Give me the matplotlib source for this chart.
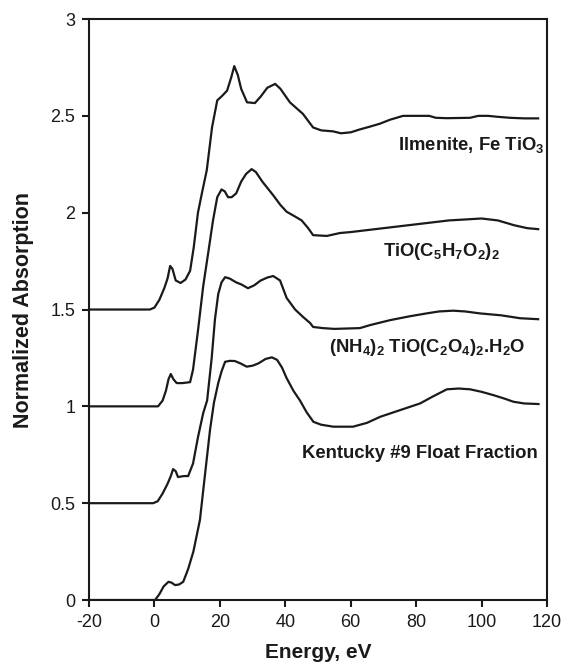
import numpy as np
import matplotlib.pyplot as plt

plt.rcParams['font.family'] = ['Liberation Sans', 'DejaVu Sans']
plt.rcParams['mathtext.default'] = 'regular'
plt.rcParams['axes.unicode_minus'] = False

# ---- data (energy in eV, normalized absorption) ----
e_ilm = [-20, -1.4, 0, 1.5, 3, 4, 4.8, 5.5, 6.5, 8, 9.5, 10.9, 12, 13.3, 14.5, 16,
         17.6, 19.2, 20.5, 22.2, 23.5, 24.4, 25.5, 26.5, 28.3, 30.7, 32.5, 34.5,
         36.9, 38.5, 41.4, 45.4, 48.5, 51, 54.6, 57, 60, 62.8, 66, 69, 72, 76, 84,
         86, 89.4, 96.5, 99, 102, 105, 108.7, 113, 117.3]
a_ilm = [1.5, 1.5, 1.51, 1.55, 1.61, 1.66, 1.725, 1.71, 1.65, 1.637, 1.655, 1.70,
         1.82, 2.0, 2.10, 2.22, 2.44, 2.58, 2.60, 2.63, 2.70, 2.757, 2.71, 2.64,
         2.57, 2.566, 2.60, 2.645, 2.665, 2.64, 2.57, 2.51, 2.44, 2.425, 2.42,
         2.41, 2.415, 2.43, 2.445, 2.46, 2.48, 2.50, 2.50, 2.49, 2.488, 2.49,
         2.50, 2.50, 2.495, 2.49, 2.487, 2.487]

e_acac = [-20, 1.1, 2.5, 3.5, 4.3, 5.0, 5.8, 6.8, 8.5, 10.9, 11.8, 13.3, 14.9,
          16.5, 17.9, 19.2, 20.5, 21.5, 22.5, 23.6, 25, 26.5, 28, 29.7, 31, 33,
          36.3, 38.5, 40.4, 43, 45, 47, 48.5, 52.7, 56.7, 60, 65, 70, 75, 80, 85,
          90, 95, 100, 105, 110, 114, 117.3]
a_acac = [1.0, 1.0, 1.03, 1.08, 1.14, 1.167, 1.14, 1.12, 1.12, 1.125, 1.19, 1.39,
          1.62, 1.80, 1.96, 2.08, 2.12, 2.11, 2.08, 2.08, 2.10, 2.16, 2.20, 2.225,
          2.21, 2.16, 2.09, 2.04, 2.005, 1.98, 1.96, 1.92, 1.884, 1.88, 1.895,
          1.90, 1.91, 1.92, 1.93, 1.94, 1.95, 1.96, 1.965, 1.97, 1.96, 1.935,
          1.92, 1.915]

e_nh4 = [-20, -0.4, 1, 2.5, 4, 5, 5.7, 6.5, 7.2, 9, 10.3, 11.8, 13.3, 14.9, 16.1,
         17.5, 18.5, 19.5, 20.5, 21.6, 23, 25, 26.5, 28.6, 30.5, 32.5, 34.5, 36.3,
         38.4, 40.4, 43, 45.4, 47.6, 48.5, 51.5, 55, 62.8, 66, 72, 78, 83.2, 87,
         91.3, 95, 99.5, 106, 111.8, 117.3]
a_nh4 = [0.5, 0.5, 0.51, 0.55, 0.60, 0.64, 0.676, 0.665, 0.635, 0.64, 0.64, 0.705,
         0.84, 0.965, 1.03, 1.25, 1.45, 1.58, 1.64, 1.667, 1.66, 1.64, 1.63, 1.61,
         1.625, 1.65, 1.665, 1.673, 1.65, 1.56, 1.50, 1.462, 1.43, 1.41, 1.404,
         1.40, 1.404, 1.42, 1.445, 1.465, 1.48, 1.49, 1.494, 1.49, 1.48, 1.47,
         1.455, 1.45]

e_ky = [-20, 0.2, 1.5, 2.8, 4.3, 5.2, 6.3, 7.5, 8.8, 10.3, 11.9, 13.9, 15.5, 17,
        18.2, 19.5, 20.5, 21.6, 23, 24.6, 26.5, 28.2, 30, 31.8, 34, 35.9, 37.5,
        39, 40.4, 42.5, 44.5, 46.5, 48.6, 51, 54.7, 60.7, 65, 69, 75, 81.2, 85,
        89.4, 93, 96.5, 100, 103.6, 107, 109.7, 113, 117.4]
a_ky = [0, 0, 0.03, 0.07, 0.094, 0.09, 0.077, 0.08, 0.094, 0.16, 0.25, 0.413,
        0.655, 0.88, 1.02, 1.12, 1.18, 1.23, 1.235, 1.234, 1.22, 1.205, 1.21,
        1.222, 1.245, 1.253, 1.24, 1.20, 1.146, 1.08, 1.03, 0.97, 0.92, 0.905,
        0.895, 0.895, 0.915, 0.946, 0.98, 1.015, 1.05, 1.088, 1.092, 1.088,
        1.075, 1.058, 1.04, 1.024, 1.015, 1.012]

labels = [r"Ilmenite, Fe TiO$_3$",
          r"TiO(C$_5$H$_7$O$_2$)$_2$",
          r"(NH$_4$)$_2$ TiO(C$_2$O$_4$)$_2$.H$_2$O",
          "Kentucky #9 Float Fraction"]

# ---- figure ----
fig = plt.figure(figsize=(5.62, 6.63), dpi=100)
ax = fig.add_axes([0.1584, 0.095, 0.8149, 0.8763])

for e, a in [(e_ilm, a_ilm), (e_acac, a_acac), (e_nh4, a_nh4), (e_ky, a_ky)]:
    ax.plot(e, a, color='#1a1a1a', lw=1.6)

# labels sit under the tail of each curve
lab_kw = dict(ha='right', va='center', fontsize=13.3, fontweight='bold', color='#1a1a1a')
ax.text(119.3, 2.35, labels[0], **lab_kw)
ax.text(105.6, 1.80, labels[1], **lab_kw)
ax.text(113.3, 1.306, labels[2], **lab_kw)
ax.text(117.2, 0.759, labels[3], **lab_kw)

ax.set_xlim(-20, 120)
ax.set_ylim(0, 3)
ax.set_xticks(np.arange(-20, 121, 20))
ax.set_yticks([0, 0.5, 1, 1.5, 2, 2.5, 3])
ax.set_yticklabels(['0', '0.5', '1', '1.5', '2', '2.5', '3'])
ax.tick_params(direction='out', length=5, width=1.5, labelsize=13, colors='#1a1a1a', pad=5)
for s in ax.spines.values():
    s.set_linewidth(1.5)
    s.set_color('#1a1a1a')

ax.set_xlabel("Energy, eV", fontsize=15, fontweight='bold', labelpad=9, color='#1a1a1a')
ax.set_ylabel("Normalized Absorption", fontsize=15.5, fontweight='bold', labelpad=11.5, color='#1a1a1a')

fig.savefig("out.png", dpi=100)
